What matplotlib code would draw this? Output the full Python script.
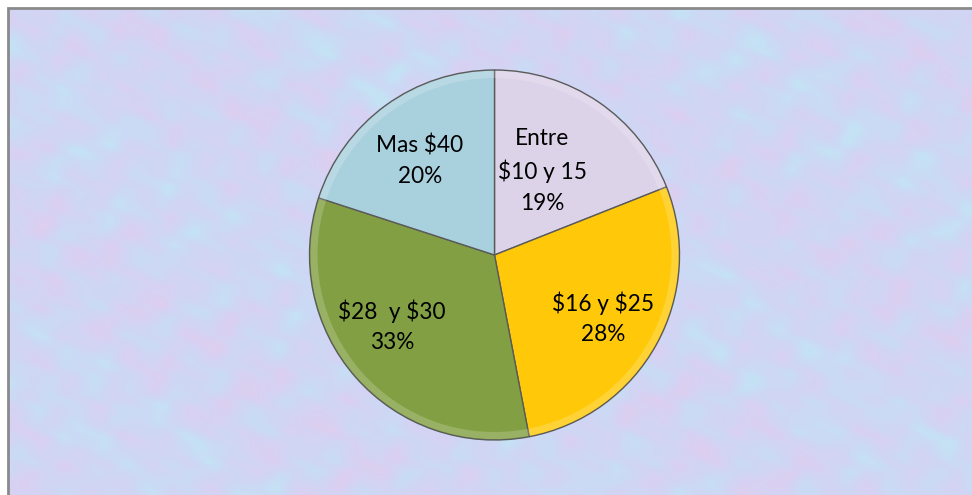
import numpy as np
import matplotlib.pyplot as plt
from matplotlib.patches import Rectangle, Wedge
from matplotlib.colors import LinearSegmentedColormap

# datos del grafico
categorias = ['Entre\n$10 y 15', '$16 y $25', '$28  y $30', 'Mas $40']
porcentajes = [19, 28, 33, 20]
colores = ['#dcd3e9', '#ffc90a', '#82a043', '#a9d0dd']

W, H = 972, 495
fig = plt.figure(figsize=(W / 100, H / 100), dpi=100)
ax = fig.add_axes([0, 0, 1, 1])

# fondo con textura (solo decorativo)
xx, yy = np.meshgrid(np.arange(8, W), np.arange(0, H - 8))
tex = (np.sin(xx / 17.0 + 2 * np.cos(yy / 13.0)) + np.sin(yy / 11.0 + xx / 23.0 + np.sin(xx / 9.0))
       + 0.7 * np.cos((xx - yy) / 7.0 + np.sin(yy / 5.0)) + 0.8 * np.sin(xx / 61.0 - yy / 43.0))
tex = (tex - tex.min()) / (tex.max() - tex.min())
cmap = LinearSegmentedColormap.from_list('fondo', ['#c4e3f4', '#cadbf5', '#cfd6f4', '#d6d2f3', '#ddcff0'])
ax.imshow(tex, cmap=cmap, extent=(8, W, 0, H - 8), origin='upper', zorder=0,
          aspect='auto', interpolation='bilinear')
ax.add_patch(Rectangle((8, -5), W, H - 8 + 5, fill=False, ec='#8a8a8a', lw=2, zorder=1))

cx, cy, R = 494.5, H - 255, 185
wedges, _ = ax.pie(porcentajes, colors=colores, startangle=90, counterclock=False,
                   center=(cx, cy), radius=R,
                   wedgeprops=dict(edgecolor='#5a5a5a', linewidth=1.0))

# bisel suave en el borde de cada porcion
for w in wedges:
    ax.add_patch(Wedge((cx, cy), R - 1, w.theta1, w.theta2, width=7,
                       fc='white', alpha=0.18, ec='none', zorder=3))

# etiquetas
pos = [(542, 171), (603, 318), (392, 326), (420, 161)]
for cat, p, (px, py) in zip(categorias, porcentajes, pos):
    ax.text(px, H - py, f'{cat}\n{p}%', ha='center', va='center', fontsize=16.3,
            family='Lato', linespacing=1.55, color='black', zorder=5, parse_math=False)

ax.set_xlim(0, W)
ax.set_ylim(0, H)
ax.axis('off')
fig.savefig('out.png', dpi=100)
